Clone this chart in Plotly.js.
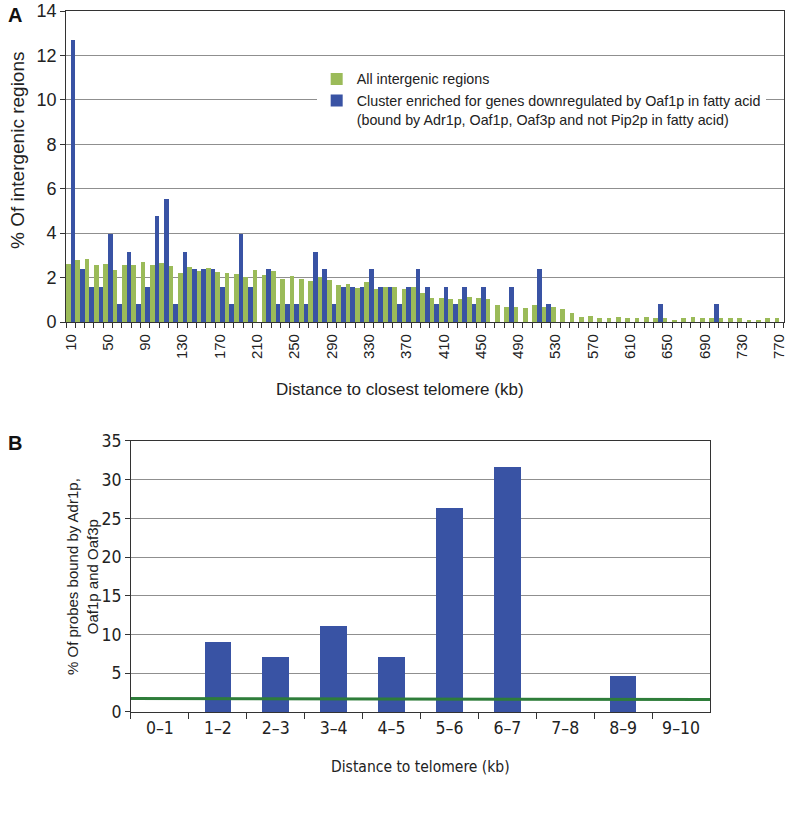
<!DOCTYPE html>
<html>
<head>
<meta charset="utf-8">
<script src="https://cdn.plot.ly/plotly-3.0.1.min.js"></script>
<style>html,body{margin:0;padding:0;background:#fff;}</style>
</head>
<body>
<div id="chart" style="width:812px;height:830px;"></div>
<script>
// ---------- Panel A data ----------
const distanceKb = [10,20,30,40,50,60,70,80,90,100,110,120,130,140,150,160,170,180,190,200,
  210,220,230,240,250,260,270,280,290,300,310,320,330,340,350,360,370,380,390,400,
  410,420,430,440,450,460,470,480,490,500,510,520,530,540,550,560,570,580,590,600,
  610,620,630,640,650,660,670,680,690,700,710,720,730,740,750,760,770];
const allIntergenic = [2.60,2.78,2.82,2.58,2.62,2.32,2.58,2.58,2.72,2.58,2.67,2.52,2.22,2.46,2.30,2.42,2.27,2.22,2.18,2.03,
  2.35,2.13,2.30,1.94,2.08,1.94,1.83,2.03,1.88,1.68,1.73,1.53,1.78,1.47,1.58,1.58,1.47,1.58,1.32,1.07,
  1.07,1.02,1.02,1.13,1.07,1.02,0.77,0.68,0.68,0.63,0.77,0.68,0.68,0.57,0.42,0.21,0.27,0.18,0.17,0.21,
  0.17,0.17,0.21,0.17,0.17,0.10,0.17,0.21,0.17,0.17,0.17,0.17,0.17,0.10,0.10,0.17,0.17];
const clusterEnriched = [12.70,2.38,1.59,1.59,3.97,0.79,3.17,0.79,1.59,4.76,5.56,0.79,3.17,2.38,2.38,2.38,1.59,0.79,3.97,1.59,
  0,2.38,0.79,0.79,0.79,0.79,3.17,2.38,0.79,1.59,1.59,1.59,2.38,1.59,1.59,0.79,1.59,2.38,1.59,0.79,
  1.59,0.79,1.59,0.79,1.59,0,0,1.59,0,0,2.38,0.79,0,0,0,0,0,0,0,0,
  0,0,0,0.79,0,0,0,0,0,0.79,0,0,0,0,0,0,0];
const tickLabelsA = [10,50,90,130,170,210,250,290,330,370,410,450,490,530,570,610,650,690,730,770];

// ---------- Panel B data ----------
const telomereBins = ['0\u20131','1\u20132','2\u20133','3\u20134','4\u20135','5\u20136','6\u20137','7\u20138','8\u20139','9\u201310'];
const probesBound = [0, 9.0, 7.1, 11.1, 7.1, 26.3, 31.6, 0, 4.7, 0];
const backgroundLevel = [1.75, 1.6];
const backgroundPos = [0, 1];

const GREEN = '#9bbb59';
const BLUE = '#3953a4';
const AXIS = '#333333';
const GRID = '#8f8f8f';
const SANS = 'Liberation Sans, Arial, Helvetica, sans-serif';
const NARROW = 'DejaVu Sans Condensed, Liberation Sans Narrow, Roboto Condensed, Arial Narrow, Liberation Sans, sans-serif';

const traces = [
  {type:'bar', name:'All intergenic regions', x: distanceKb, y: allIntergenic,
   marker:{color: GREEN}, xaxis:'x', yaxis:'y', hoverinfo:'skip'},
  {type:'bar', name:'Cluster enriched for genes downregulated by Oaf1p in fatty acid<br>(bound by Adr1p, Oaf1p, Oaf3p and not Pip2p in fatty acid)',
   x: distanceKb, y: clusterEnriched, marker:{color: BLUE}, xaxis:'x', yaxis:'y', hoverinfo:'skip'},
  {type:'bar', name:'B bars', x: telomereBins, y: probesBound, width: 0.46,
   marker:{color: BLUE}, xaxis:'x2', yaxis:'y2', showlegend:false, hoverinfo:'skip'},
  {type:'scatter', mode:'lines', name:'background', x: backgroundPos, y: backgroundLevel,
   line:{color:'#2e7d3a', width:3}, xaxis:'x3', yaxis:'y2', showlegend:false, hoverinfo:'skip'}
];

const layout = {
  width: 812, height: 830,
  margin: {l:0, r:0, t:0, b:0},
  paper_bgcolor: '#ffffff', plot_bgcolor: '#ffffff',
  barmode: 'group', bargap: 0, bargroupgap: 0,
  font: {family: SANS, color: '#222', size: 14},
  showlegend: true,
  legend: {x: 0.39, y: 0.924, xanchor:'left', yanchor:'top', bgcolor:'#ffffff',
           font:{size:14.3, family: SANS, color:'#222'}, valign:'top', tracegroupgap: 4},
  xaxis: {domain:[0.0813, 0.9655], anchor:'y', type:'linear', range:[5,775],
          tickvals: tickLabelsA, ticktext: tickLabelsA.map(String), tickangle: -90,
          ticks:'outside', ticklen:5, tickcolor:'rgba(0,0,0,0)',
          minor:{ticks:'outside', tick0:5, dtick:10, ticklen:5, tickcolor:AXIS, showgrid:false},
          showline:true, mirror:true, linecolor:AXIS, linewidth:1, showgrid:false, zeroline:false,
          tickfont:{size:15, family: SANS}},
  yaxis: {domain:[0.612, 0.9867], anchor:'x', range:[0,14], dtick:2,
          ticks:'outside', ticklen:5, tickcolor:AXIS, showline:true, mirror:true, linecolor:AXIS,
          showgrid:true, gridcolor:GRID, gridwidth:1, zeroline:false,
          tickfont:{size:18, family: SANS}},
  xaxis2: {domain:[0.1613, 0.8744], anchor:'y2', type:'category', tickson:'boundaries',
           ticks:'outside', ticklen:6, tickcolor:AXIS, showline:true, mirror:true, linecolor:AXIS,
           showgrid:false, zeroline:false, tickfont:{size:17.5, family: NARROW}},
  xaxis3: {overlaying:'x2', anchor:'y2', range:[0,1], visible:false},
  yaxis2: {domain:[0.1422, 0.4687], anchor:'x2', range:[0,35], dtick:5,
           ticks:'outside', ticklen:5, tickcolor:AXIS, showline:true, mirror:true, linecolor:AXIS,
           showgrid:true, gridcolor:GRID, gridwidth:1, zeroline:false,
           tickfont:{size:17.5, family: NARROW}},
  annotations: [
    {text:'<b>A</b>', xref:'paper', yref:'paper', x:0.008, y:0.998, xanchor:'left', yanchor:'top',
     showarrow:false, font:{size:20, family: SANS, color:'#111'}},
    {text:'<b>B</b>', xref:'paper', yref:'paper', x:0.008, y:0.482, xanchor:'left', yanchor:'top',
     showarrow:false, font:{size:20, family: SANS, color:'#111'}},
    {text:'Distance to closest telomere (kb)', xref:'paper', yref:'paper', x:400/812, y:(830-389)/830,
     xanchor:'center', yanchor:'middle', showarrow:false, font:{size:17, family: SANS, color:'#222'}},
    {text:'% Of intergenic regions', xref:'paper', yref:'paper', x:17/812, y:(830-150)/830, textangle:-90,
     xanchor:'center', yanchor:'middle', showarrow:false, font:{size:19, family: SANS, color:'#222'}},
    {text:'% Of probes bound by Adr1p,<br>Oaf1p and Oaf3p', xref:'paper', yref:'paper', x:82/812, y:(830-577)/830, textangle:-90,
     xanchor:'center', yanchor:'middle', showarrow:false, font:{size:15, family: SANS, color:'#222'}},
    {text:'Distance to telomere (kb)', xref:'paper', yref:'paper', x:421/812, y:(830-767)/830,
     xanchor:'center', yanchor:'middle', showarrow:false, font:{size:15.5, family: NARROW, color:'#222'}}
  ]
};

Plotly.newPlot('chart', traces, layout, {staticPlot:true, displayModeBar:false});
</script>
</body>
</html>
